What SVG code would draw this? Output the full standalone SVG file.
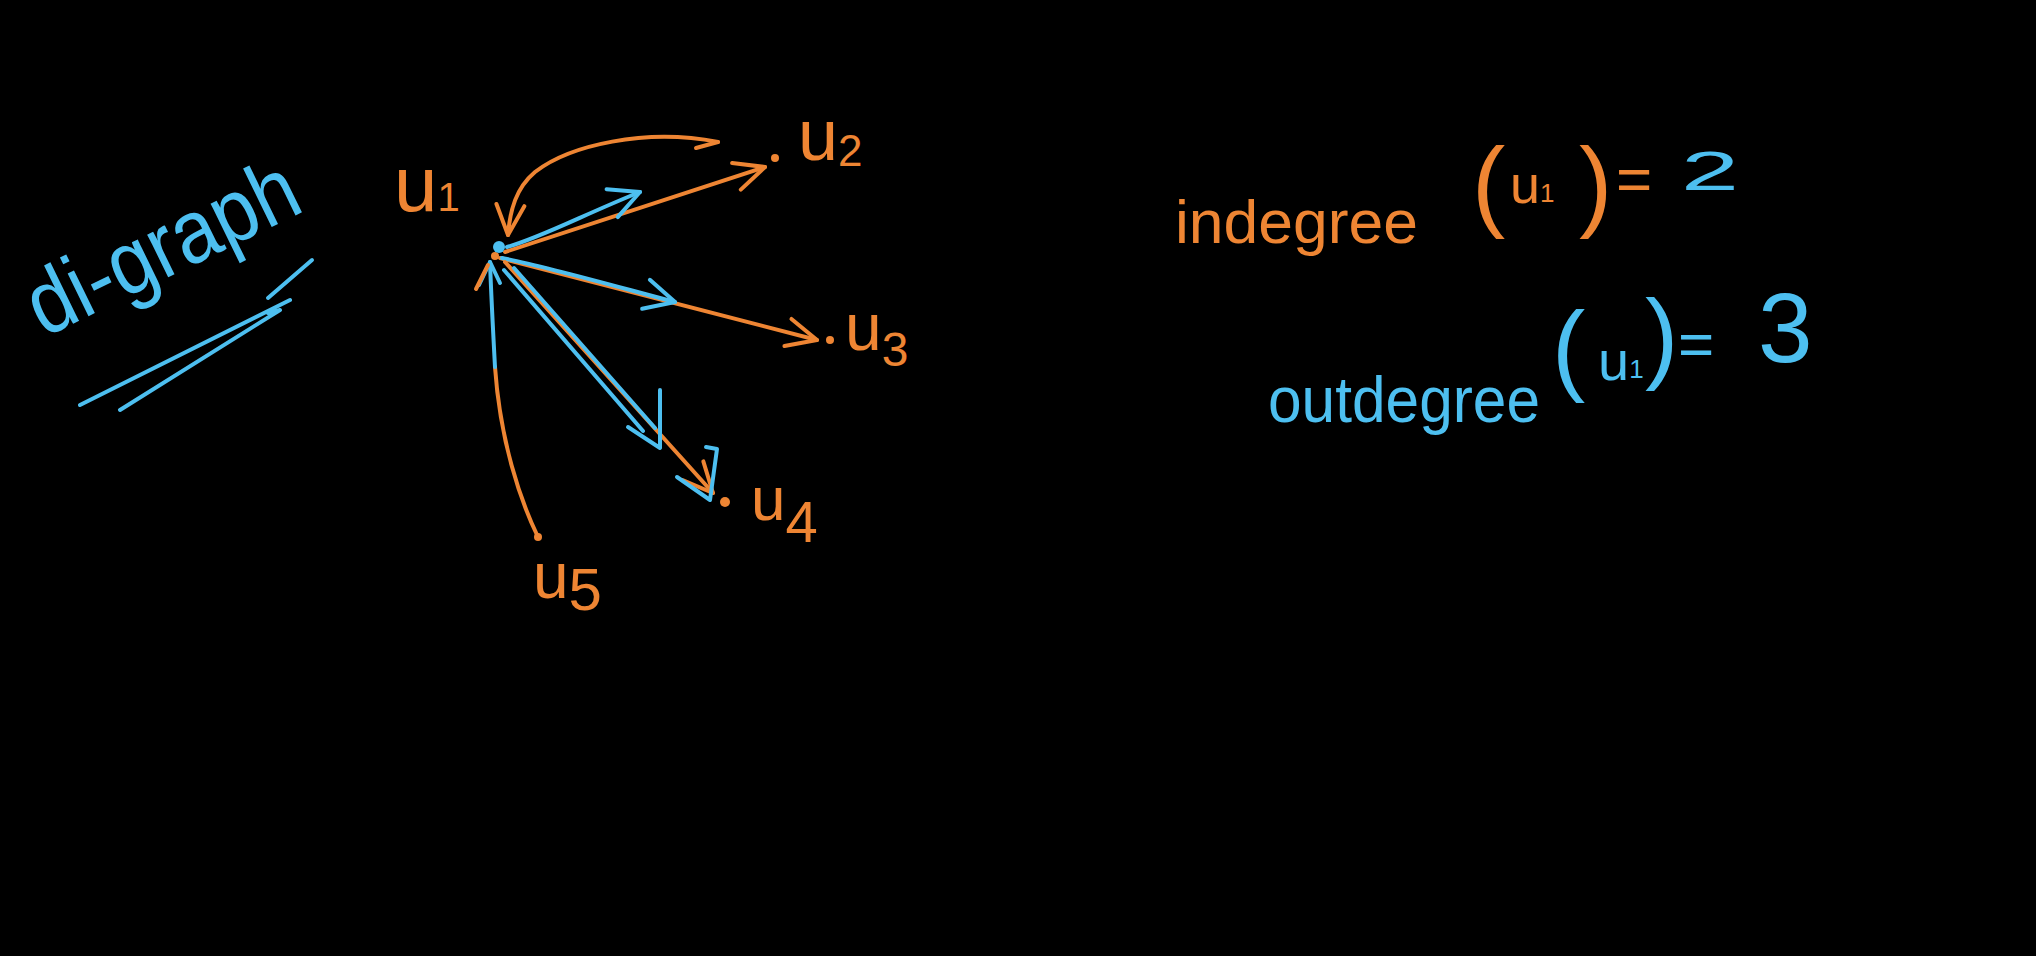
<svg xmlns="http://www.w3.org/2000/svg" width="2036" height="956" viewBox="0 0 2036 956">
<style>
.o{stroke:#EE8533;fill:none;stroke-width:4;stroke-linecap:round;stroke-linejoin:round}
.b{stroke:#4DBFF0;fill:none;stroke-width:4;stroke-linecap:round;stroke-linejoin:round}
.to{fill:#EE8533;font-family:"Liberation Sans",Arial,sans-serif}
.tb{fill:#4DBFF0;font-family:"Liberation Sans",Arial,sans-serif}
</style>
<defs>
<marker id="ao" viewBox="-34 -18 38 36" markerWidth="38" markerHeight="36" refX="0" refY="0" orient="auto" markerUnits="userSpaceOnUse">
<path d="M-30,-14 L0,0 L-30,14" fill="none" stroke="#EE8533" stroke-width="4" stroke-linecap="round" stroke-linejoin="round"/>
</marker>
<marker id="ab" viewBox="-34 -18 38 36" markerWidth="38" markerHeight="36" refX="0" refY="0" orient="auto" markerUnits="userSpaceOnUse">
<path d="M-30,-15 L0,0 L-30,15" fill="none" stroke="#4DBFF0" stroke-width="4" stroke-linecap="round" stroke-linejoin="round"/>
</marker>
</defs>
<rect x="0" y="0" width="2036" height="956" fill="#000"/>

<g id="connectors">
<path id="e-u1-u2" class="o" d="M505,252 L765,167" marker-end="url(#ao)"/>
<path id="e-u2-u1" class="o" d="M718,142 C645,128 570,145 535,172 C516,188 510,210 508,235" marker-end="url(#ao)"/>
<path class="o" d="M718,142 L696,148"/>
<path id="e-u1-u2-blue" class="b" d="M507,247 C540,238 585,214 640,192" marker-end="url(#ab)"/>
<path id="e-u1-u3" class="o" d="M500,258 L817,340" marker-end="url(#ao)"/>
<path id="e-u1-u3-blue" class="b" d="M502,258 C540,265 600,282 675,302" marker-end="url(#ab)"/>
<path id="e-u1-u4" class="o" d="M505,262 L713,493" marker-end="url(#ao)"/>
<path id="e-u1-u4-blue" class="b" d="M504,270 L643,431 M514,268 L655,428"/>
<path class="b" d="M628,427 L660,448 L660,390"/>
<path class="b" d="M677,477 L710,500 L717,449 L706,447"/>
<path id="e-u5-u1" class="o" d="M538,537 C520,500 500,440 495,367"/>
<path class="b" d="M495,367 C493,330 491,290 490,262"/>
<path class="b" d="M479,285 L490,262 L500,283"/>
<path class="o" d="M476,289 L488,265"/>
</g>

<g id="u1">
<circle cx="495" cy="256" r="4" fill="#EE8533"/>
<circle cx="499" cy="247" r="6" fill="#4DBFF0"/>
<text class="to" x="394" y="211" font-size="78">u<tspan font-size="40">1</tspan></text>
</g>
<g id="u2">
<circle cx="775" cy="158" r="4" fill="#EE8533"/>
<text class="to" x="798" y="160" font-size="72">u<tspan font-size="44" dy="6">2</tspan></text>
</g>
<g id="u3">
<circle cx="830" cy="340" r="4" fill="#EE8533"/>
<text class="to" x="845" y="350" font-size="66">u<tspan font-size="48" dy="16">3</tspan></text>
</g>
<g id="u4">
<circle cx="725" cy="502" r="5" fill="#EE8533"/>
<text class="to" x="751" y="520" font-size="62">u<tspan font-size="58" dy="22">4</tspan></text>
</g>
<g id="u5">
<circle cx="538" cy="537" r="4" fill="#EE8533"/>
<text class="to" x="533" y="598" font-size="64">u<tspan font-size="60" dy="12">5</tspan></text>
</g>

<g id="digraph-title">
<text class="tb" x="44" y="338" font-size="90" textLength="292" lengthAdjust="spacingAndGlyphs" transform="rotate(-26 44 338)">di-graph</text>
<path class="b" d="M80,405 L290,300"/>
<path class="b" d="M120,410 L280,310 L268,313"/>
<path class="b" d="M268,298 L312,260"/>
</g>

<g id="indegree">
<text class="to" x="1175" y="243" font-size="62" textLength="243" lengthAdjust="spacingAndGlyphs">indegree</text>
<text class="to" x="1472" y="218" font-size="100">(</text>
<text class="to" x="1510" y="203" font-size="54">u<tspan font-size="26" dy="-1">1</tspan></text>
<text class="to" x="1579" y="218" font-size="100">)</text>
<text class="to" x="1616" y="200" font-size="62">=</text>
<text class="tb" x="1681" y="190" font-size="56" textLength="58" lengthAdjust="spacingAndGlyphs">2</text>
</g>

<g id="outdegree">
<text class="tb" x="1268" y="422" font-size="64" textLength="272" lengthAdjust="spacingAndGlyphs">outdegree</text>
<text class="tb" x="1552" y="382" font-size="100">(</text>
<text class="tb" x="1598" y="380" font-size="56">u<tspan font-size="26" dy="-2">1</tspan></text>
<text class="tb" x="1645" y="370" font-size="100">)</text>
<text class="tb" x="1678" y="365" font-size="62">=</text>
<text class="tb" x="1758" y="362" font-size="98">3</text>
</g>
</svg>
